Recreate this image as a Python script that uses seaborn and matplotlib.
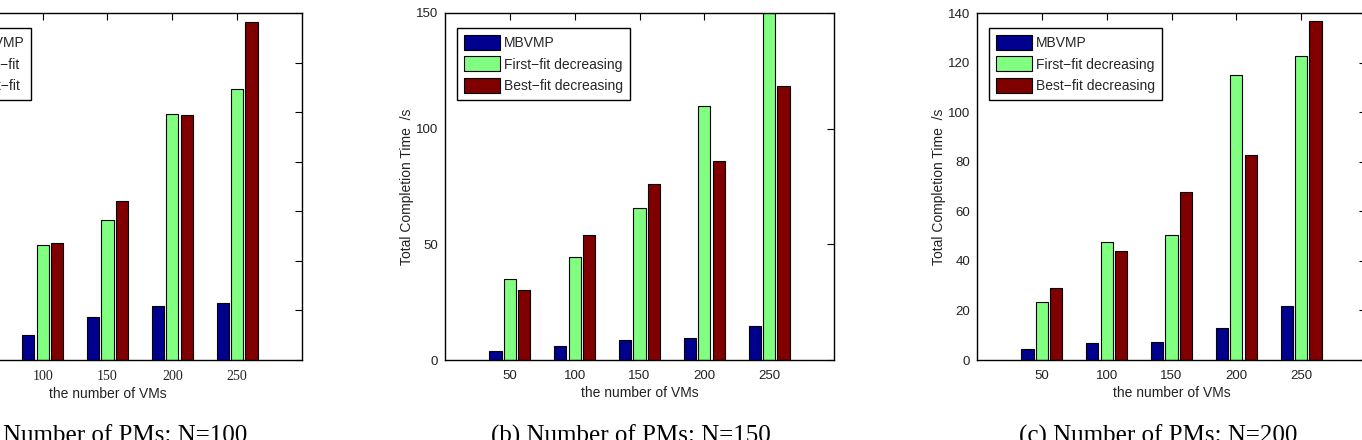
import numpy as np
import pandas as pd
import matplotlib
matplotlib.use("Agg")
import matplotlib.pyplot as plt
import seaborn as sns

# ---------------- data ----------------
vms = ["50", "100", "150", "200", "250"]
methods = ["MBVMP", "First-fit decreasing", "Best-fit decreasing"]

# (a) N=100  (y tick labels cropped in the reference; scale assumed 0-140)
a_mbvmp = [5.0, 10.1, 17.5, 21.8, 22.9]
a_ffd = [28.0, 46.2, 56.5, 99.3, 109.3]
a_bfd = [30.0, 47.1, 64.0, 98.7, 136.2]

# (b) N=150
b_mbvmp = [4.0, 6.1, 8.7, 9.7, 14.9]
b_ffd = [34.9, 44.7, 65.7, 110.0, 150.0]
b_bfd = [30.3, 54.0, 76.0, 86.0, 118.6]

# (c) N=200
c_mbvmp = [4.3, 7.0, 7.3, 12.8, 21.8]
c_ffd = [23.6, 47.8, 50.5, 115.1, 122.5]
c_bfd = [28.9, 44.0, 67.8, 82.6, 136.6]

a_legend = ["MBVMP", "First\u2212fit", "Best\u2212fit"]
bc_legend = ["MBVMP", "First\u2212fit decreasing", "Best\u2212fit decreasing"]

captions = ["(a) Number of PMs: N=100", "(b) Number of PMs: N=150",
            "(c) Number of PMs: N=200"]
xlabel = "the number of VMs"
ylabel = "Total Completion Time  /s"

colors = ["#00008F", "#80FF80", "#800000"]


def frame(s1, s2, s3):
    rows = []
    for m, vals in zip(methods, (s1, s2, s3)):
        for v, t in zip(vms, vals):
            rows.append({"vms": v, "time": t, "method": m})
    return pd.DataFrame(rows)


sns.set_style("white")
plt.rcParams["font.family"] = ["Liberation Sans", "DejaVu Sans"]

W, H = 1362, 440
fig = plt.figure(figsize=(W / 100, H / 100), dpi=100)

ax_w = 389 / W
ax_b = (H - 360) / H
ax_h = 347 / H
lefts = [-87 / W, 445 / W, 977 / W]

panels = [
    (frame(a_mbvmp, a_ffd, a_bfd), a_legend, (0, 140), np.arange(0, 141, 20), "Liberation Serif", 0.95),
    (frame(b_mbvmp, b_ffd, b_bfd), bc_legend, (0, 150), np.arange(0, 151, 50), "Liberation Sans", 0.86),
    (frame(c_mbvmp, c_ffd, c_bfd), bc_legend, (0, 140), np.arange(0, 141, 20), "Liberation Sans", 0.86),
]

for i, (df, leg_labels, ylim, yticks, tickfont, lpad) in enumerate(panels):
    ax = fig.add_axes([lefts[i], ax_b, ax_w, ax_h])
    sns.barplot(data=df, x="vms", y="time", hue="method", hue_order=methods,
                order=vms, palette=colors, width=0.663, gap=0.15,
                edgecolor="black", linewidth=0.8, saturation=1,
                errorbar=None, ax=ax, legend=True)
    ax.set_xlim(-1, 5)
    ax.set_ylim(*ylim)
    ax.set_yticks(yticks)
    ax.set_xlabel(xlabel, fontsize=10, color="#222222", labelpad=3)
    ax.set_ylabel(ylabel, fontsize=10, color="#222222", labelpad=1)
    ax.tick_params(axis="x", pad=7)
    ax.tick_params(axis="y", pad=5)
    ax.tick_params(direction="in", top=True, right=True, length=5, width=0.8,
                   labelsize=9.5, colors="black", labelcolor="#222222")
    for lab in ax.get_xticklabels() + ax.get_yticklabels():
        lab.set_fontfamily(tickfont)
        if tickfont == "Liberation Serif":
            lab.set_fontsize(10)
    for sp in ax.spines.values():
        sp.set_color("black")
        sp.set_linewidth(1.0)
    handles, _ = ax.get_legend_handles_labels()
    pad_frac_x = lpad * 10 / 72 * 100 / (ax_w * W)
    pad_frac_y = 1.05 * 10 / 72 * 100 / (ax_h * H)
    ax.legend(handles, leg_labels, loc="upper left",
              bbox_to_anchor=(pad_frac_x, 1 - pad_frac_y), borderaxespad=0,
              fontsize=10, frameon=True, fancybox=False, edgecolor="black",
              framealpha=1, handlelength=2.6, handleheight=1.3,
              labelspacing=0.47, handletextpad=0.3, borderpad=0.5)
    ax.get_legend().get_frame().set_linewidth(1.0)

cap_x = [108 / W, 631 / W, 1158 / W]
for x, c in zip(cap_x, captions):
    fig.text(x, (H - 443) / H, c, ha="center", va="baseline",
             fontsize=18, family="Liberation Serif", color="black")

fig.savefig("out.png", dpi=100)
